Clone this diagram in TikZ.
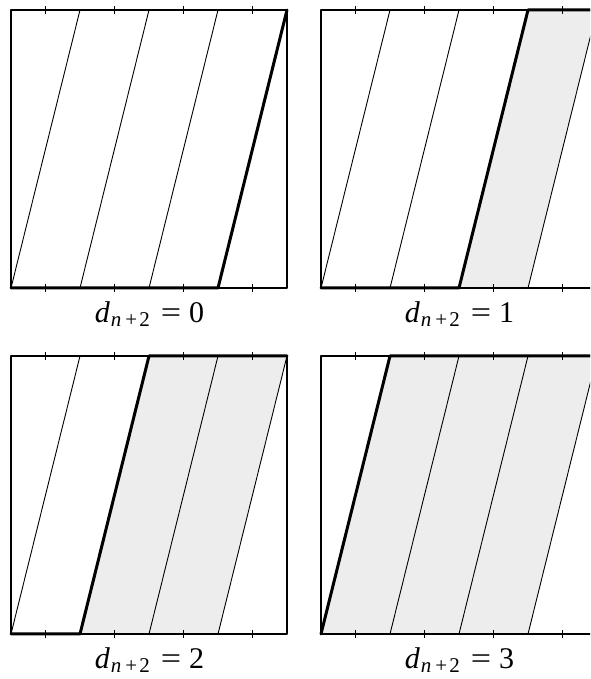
\documentclass[tikz,border=0pt]{standalone}
\usepackage{fontspec}
\usepackage{graphicx}
\usepackage{tikz}
\usetikzlibrary{calc}
\newfontfamily\labelfont{Liberation Serif}
% d_{n+2} = #1, set by hand in a Times-like face
\newcommand{\dlabel}[1]{\textit{d}\kern1pt\raisebox{-3.5pt}{\fontsize{21}{21}\selectfont
  \textit{n}\kern4pt+\kern2pt2}\kern11pt\scalebox{1.2}[1]{=}\kern8pt#1}
\tikzset{
  dg/frame/.style={draw, line width=1.8pt, line join=round},
  dg/strand/.style={line width=0.9pt},
  dg/heavy/.style={line width=3pt, line cap=round, line join=round},
  dg/band/.style={fill=black!7},
  dg/tick/.style={line width=0.9pt},
  dg/label/.style={anchor=base, inner sep=0pt, font=\labelfont\fontsize{30}{36}\selectfont}
}
\begin{document}
\begin{tikzpicture}[x=1pt, y=1pt]
  \useasboundingbox (0,0) rectangle (590,679);
  \clip (0,0) rectangle (590,679);

  % one panel per value of d, period 69, box 276 x 278
  \foreach \d/\px/\py in {0/11/391, 1/321/391, 2/11/45, 3/321/45} {
    \begin{scope}[shift={(\px,\py)}]
      % shaded bands right of the heavy strand
      \ifnum\d>0
        \fill[dg/band] ({(3-\d)*69},0) -- (207,0) -- (276,278)
          -- ({(4-\d)*69},278) -- cycle;
      \fi
      % slanted strands
      \foreach \k in {0,...,3}
        \draw[dg/strand] (\k*69,0) -- ({\k*69+69},278);
      \draw[dg/frame] (0,0) rectangle (276,278);
      % ticks on top and bottom edges
      \foreach \t in {0.5,1.5,2.5,3.5} {
        \draw[dg/tick] (\t*69,-4) -- (\t*69,4);
        \draw[dg/tick] (\t*69,274) -- (\t*69,282);
      }
      % heavy path
      \draw[dg/heavy] (0,0) -- ({(3-\d)*69},0) -- ({(4-\d)*69},278) -- (276,278);
      \node[dg/label] (lab\d) at (149.5-11,-35) {\dlabel{\d}};
    \end{scope}
  }
\end{tikzpicture}
\end{document}
